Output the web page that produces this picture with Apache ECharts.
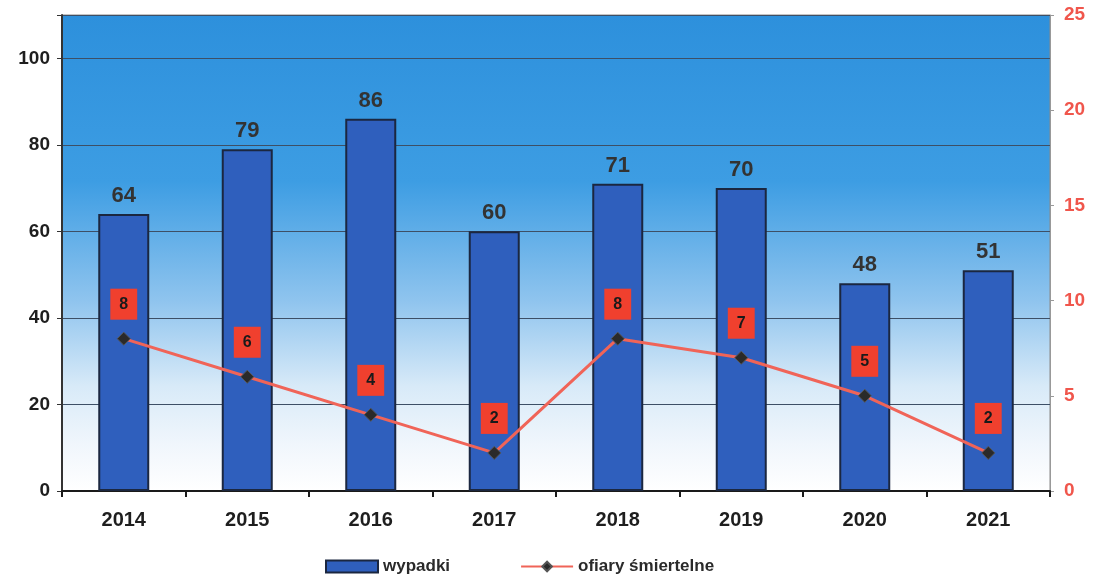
<!DOCTYPE html>
<html><head><meta charset="utf-8">
<script src="https://cdn.jsdelivr.net/npm/echarts@6/dist/echarts.min.js"></script>
<style>html,body{margin:0;padding:0;background:#fff}#c{width:1094px;height:582px}</style>
</head><body><div id="c"></div>
<script>
const years = ['2014','2015','2016','2017','2018','2019','2020','2021'];
const wypadki = [64, 79, 86, 60, 71, 70, 48, 51];
const ofiary = [8, 6, 4, 2, 8, 7, 5, 2];
const leftTicks = [0, 20, 40, 60, 80, 100];
const rightTicks = [0, 5, 10, 15, 20, 25];

const chart = echarts.init(document.getElementById('c'));
const F = '"Liberation Sans", Arial, sans-serif';
chart.setOption({
  animation: false,
  grid: {
    left: 62, right: 44, top: 15, bottom: 91,
    show: true, borderColor: '#8a8a8a', borderWidth: 1,
    backgroundColor: {
      type: 'linear', x: 0, y: 0, x2: 0, y2: 1,
      colorStops: [
        {offset: 0, color: '#2d90dc'},
        {offset: 0.35, color: '#3d9de3'},
        {offset: 0.6, color: '#8fc4ee'},
        {offset: 0.78, color: '#d8eaf8'},
        {offset: 0.9, color: '#f0f6fc'},
        {offset: 1, color: '#ffffff'}
      ]
    }
  },
  legend: {
    bottom: 2, left: 320, itemGap: 70, itemWidth: 52, itemHeight: 12,
    textStyle: {fontFamily: F, fontSize: 17, color: '#2a2a2a', fontWeight: 'bold'},
    data: [
      {name: 'wypadki', icon: 'rect'},
      {name: 'ofiary śmiertelne'}
    ]
  },
  xAxis: {
    type: 'category', data: years,
    axisLine: {lineStyle: {color: '#1a1a1a', width: 2}},
    axisTick: {show: true, length: 6, lineStyle: {color: '#1a1a1a', width: 2}},
    axisLabel: {fontFamily: F, fontSize: 20, fontWeight: 'bold', color: '#1e1e1e', margin: 19}
  },
  yAxis: [
    {
      type: 'value', min: 0, max: 110, interval: 20,
      axisLine: {show: true, lineStyle: {color: '#333', width: 2}},
      axisTick: {show: true, length: 5, lineStyle: {color: '#333'}},
      splitLine: {lineStyle: {color: '#3d4f66', width: 1}},
      axisLabel: {fontFamily: F, fontSize: 19, fontWeight: 'bold', color: '#1e1e1e', margin: 12,
        formatter: v => leftTicks.includes(v) ? String(v) : ''}
    },
    {
      type: 'value', min: 0, max: 25, interval: 5,
      axisLine: {show: true, lineStyle: {color: '#999', width: 1}},
      axisTick: {show: true, length: 4, lineStyle: {color: '#999'}},
      splitLine: {show: false},
      axisLabel: {fontFamily: F, fontSize: 19, fontWeight: 'bold', color: '#f0564c', margin: 14,
        formatter: v => rightTicks.includes(v) ? String(v) : ''}
    }
  ],
  series: [
    {
      name: 'wypadki', type: 'bar', data: wypadki, barWidth: 51, yAxisIndex: 0,
      itemStyle: {color: '#2f5fbd', borderColor: '#1b2740', borderWidth: 2},
      label: {show: true, position: 'top', distance: 7, fontFamily: F, fontSize: 22, fontWeight: 'bold', color: '#333'}
    },
    {
      name: 'ofiary śmiertelne', type: 'line', data: ofiary, yAxisIndex: 1,
      lineStyle: {color: '#f06458', width: 3},
      itemStyle: {color: '#2a2a2a', borderColor: '#555', borderWidth: 1},
      symbol: 'diamond', symbolSize: 13,
      label: {show: true, position: 'top', distance: 12, fontFamily: F, fontSize: 16, fontWeight: 'bold',
        color: '#1a1a1a', backgroundColor: '#f0402e', padding: [8, 9, 7, 9]}
    }
  ]
});
</script></body></html>
